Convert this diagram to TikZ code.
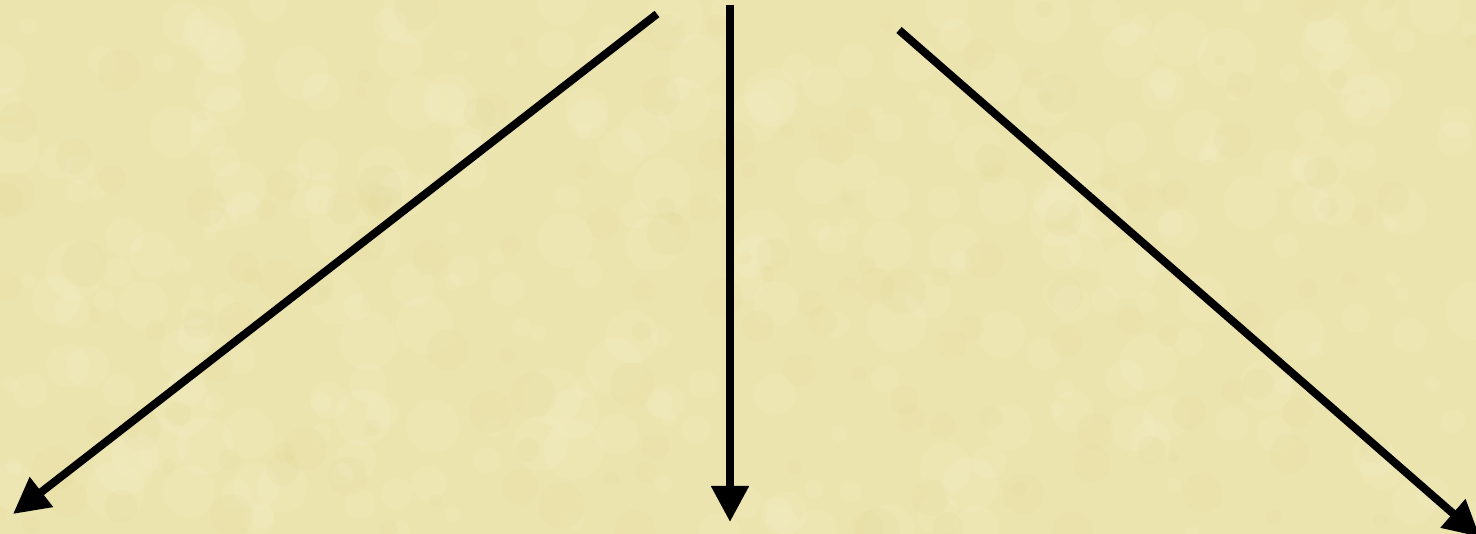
\documentclass[tikz,border=0pt]{standalone}
\usetikzlibrary{arrows.meta}
\definecolor{parch}{RGB}{236,228,174}
\definecolor{parchlight}{RGB}{244,238,198}
\definecolor{parchdark}{RGB}{226,215,152}
\tikzset{
  arrowline/.style={line width=8pt, -{Triangle[length=36pt,width=36pt]}, black},
}
\begin{document}
\begin{tikzpicture}[x=1pt,y=-1pt]
\useasboundingbox (0,0) rectangle (1476,534);
\fill[parch] (0,0) rectangle (1476,534);
\begin{scope}
\clip (0,0) rectangle (1476,534);
\pgfmathsetseed{7}
\foreach \i in {1,...,300}{
  \pgfmathsetmacro{\xx}{rnd*1476}
  \pgfmathsetmacro{\yy}{rnd*534}
  \pgfmathsetmacro{\rr}{6+rnd*24}
  \fill[parchlight,opacity=0.22] (\xx,\yy) circle (\rr);
}
\foreach \i in {1,...,160}{
  \pgfmathsetmacro{\xx}{rnd*1476}
  \pgfmathsetmacro{\yy}{rnd*534}
  \pgfmathsetmacro{\rr}{5+rnd*18}
  \fill[parchdark,opacity=0.15] (\xx,\yy) circle (\rr);
}
\end{scope}
\coordinate (s1) at (657,14);
\coordinate (e1) at (13,514);
\coordinate (s2) at (730,5);
\coordinate (e2) at (730,522);
\coordinate (s3) at (899,30);
\coordinate (e3) at (1480,537);
\draw[arrowline] (s1) -- (e1);
\draw[arrowline] (s2) -- (e2);
\draw[arrowline] (s3) -- (e3);
\end{tikzpicture}
\end{document}
